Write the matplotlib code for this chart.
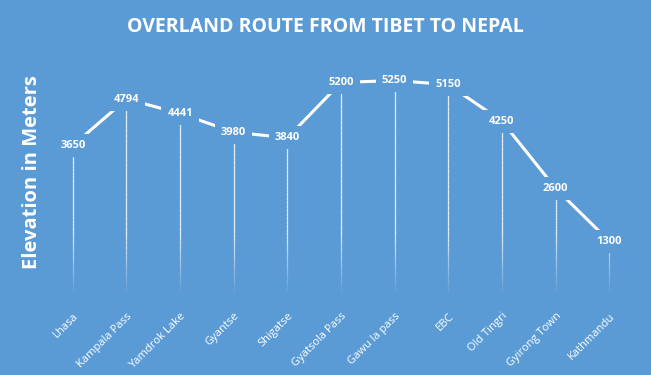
import numpy as np
import matplotlib.pyplot as plt

# Route stops and elevation in meters
places = ['Lhasa', 'Kampala Pass', 'Yamdrok Lake', 'Gyantse', 'Shigatse',
          'Gyatsola Pass', 'Gawu la pass', 'EBC', 'Old Tingri', 'Gyirong Town',
          'Kathmandu']
elevation = [3650, 4794, 4441, 3980, 3840, 5200, 5250, 5150, 4250, 2600, 1300]

bg = '#5B9BD5'
plt.rcParams['font.family'] = ['Open Sans', 'DejaVu Sans']

fig = plt.figure(figsize=(6.51, 3.75), dpi=100, facecolor=bg)
ax = fig.add_axes([46 / 651, 81 / 375, 590 / 651, 244 / 375], facecolor=bg)

x = np.arange(len(places))

# drop lines, fading out toward the bottom
for xi, yi in zip(x, elevation):
    steps = 40
    ys = np.linspace(0, yi, steps + 1)
    for k in range(steps):
        frac = (ys[k] + ys[k + 1]) / 2 / 1500.0
        a = min(1.0, max(0.0, frac)) * 0.85
        ax.plot([xi, xi], [ys[k], ys[k + 1]], color='white', lw=0.9,
                alpha=a, solid_capstyle='butt', zorder=1)

ax.plot(x, elevation, color='white', lw=2.2, zorder=2)

for xi, yi in zip(x, elevation):
    ax.text(xi, yi, str(yi), ha='center', va='center', color='white',
            fontsize=8, fontweight='bold', zorder=3,
            bbox=dict(boxstyle='square,pad=0.55', fc=bg, ec='none'))

ax.set_xlim(-0.5, len(places) - 0.5)
ax.set_ylim(0, 6000)
ax.set_xticks(x)
ax.set_xticklabels(places, rotation=45, ha='right', va='top',
                   rotation_mode='anchor', color='white', fontsize=8)
ax.tick_params(axis='x', length=0, pad=12)
ax.set_yticks([])
for s in ax.spines.values():
    s.set_visible(False)

ax.set_ylabel('Elevation in Meters', color='white', fontsize=14.5,
              fontweight='bold', labelpad=3)
fig.text(0.5, 0.928, 'OVERLAND ROUTE FROM TIBET TO NEPAL', ha='center',
         va='center', color='white', fontsize=14, fontweight='bold')

fig.savefig('out.png', dpi=100, facecolor=bg)
